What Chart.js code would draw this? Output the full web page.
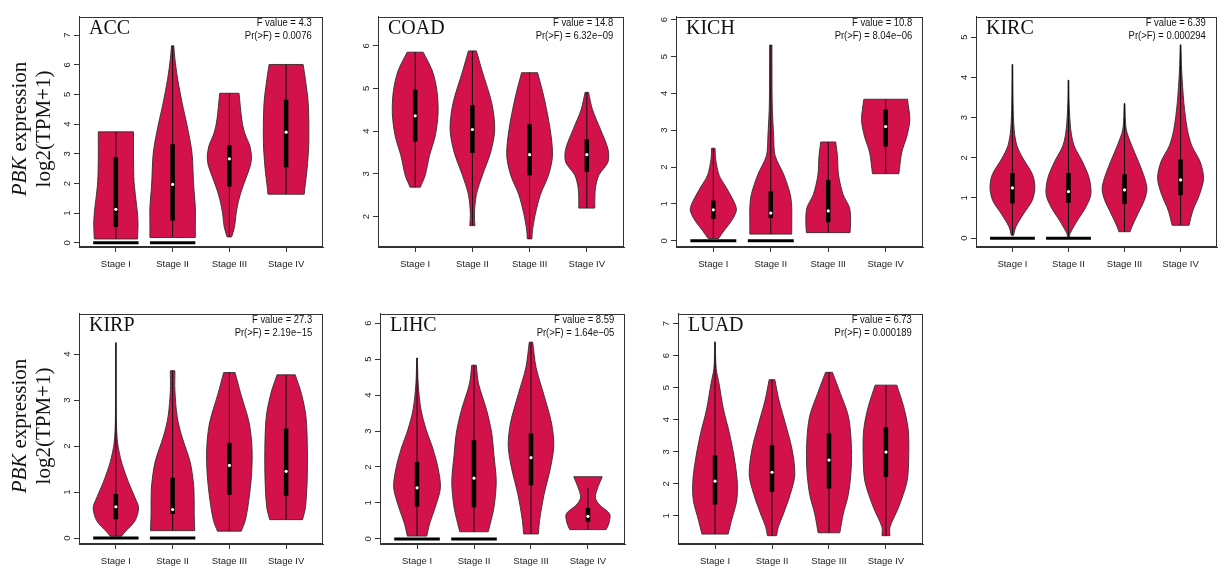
<!DOCTYPE html>
<html>
<head>
<meta charset="utf-8">
<script src="https://cdn.jsdelivr.net/npm/chart.js@4.4.1/dist/chart.umd.min.js"></script>
<style>
  html, body { margin: 0; padding: 0; background: #fff; }
  body { width: 1224px; height: 569px; position: relative; overflow: hidden; }
  canvas { position: absolute; }
  .name { position: absolute; font: 20px 'Liberation Serif', 'Times New Roman', serif; color: #111; line-height: 20px; white-space: nowrap; }
  .stat { position: absolute; font: 11px 'Liberation Sans', Arial, sans-serif; color: #111; text-align: right; line-height: 13px; white-space: nowrap; transform: scaleX(0.86); transform-origin: right top; }
  .ytitle { position: absolute; width: 170px; height: 50px; font: 21px 'Liberation Serif', 'Times New Roman', serif; color: #111; line-height: 24px; text-align: center; transform: rotate(-90deg); white-space: nowrap; }
</style>
</head>
<body>
<script>
const stages = ['Stage I', 'Stage II', 'Stage III', 'Stage IV'];
const cancers = ['ACC', 'COAD', 'KICH', 'KIRC', 'KIRP', 'LIHC', 'LUAD'];
const fValues = ['4.3', '14.8', '10.8', '6.39', '27.3', '8.59', '6.73'];
const pValues = ['0.0076', '6.32e\u221209', '8.04e\u221206', '0.000294', '2.19e\u221215', '1.64e\u221205', '0.000189'];

// y tick values per panel
const yTicks = [
  [0, 1, 2, 3, 4, 5, 6, 7],
  [2, 3, 4, 5, 6],
  [0, 1, 2, 3, 4, 5, 6],
  [0, 1, 2, 3, 4, 5],
  [0, 1, 2, 3, 4],
  [0, 1, 2, 3, 4, 5, 6],
  [1, 2, 3, 4, 5, 6, 7]
];
const yRanges = [[-0.14, 7.62], [1.29, 6.68], [-0.17, 6.08], [-0.22, 5.51], [-0.13, 4.88], [-0.14, 6.26], [0.12, 7.31]];

// violin profiles: [expression, half width] from bottom to top, one per stage
const accViolin = [
  [[0.13, 0.38], [0.6, 0.39], [1.0, 0.38], [1.5, 0.35], [2.06, 0.32], [2.8, 0.31], [3.74, 0.31]],
  [[0.18, 0.40], [0.6, 0.40], [1.2, 0.40], [1.95, 0.37], [3.05, 0.34], [4.0, 0.25], [4.69, 0.17], [5.5, 0.09], [6.2, 0.04], [6.64, 0.02]],
  [[0.2, 0.04], [0.53, 0.09], [1.0, 0.12], [1.4, 0.16], [1.8, 0.22], [2.17, 0.29], [2.6, 0.37], [2.9, 0.39], [3.27, 0.36], [3.7, 0.27], [4.14, 0.22], [5.04, 0.17]],
  [[1.64, 0.32], [1.84, 0.33], [2.5, 0.37], [3.38, 0.40], [4.69, 0.39], [5.5, 0.34], [6.01, 0.30]]
];
const coadViolin = [
  [[2.69, 0.09], [2.97, 0.175], [3.43, 0.25], [3.89, 0.35], [4.42, 0.40], [4.95, 0.38], [5.41, 0.30], [5.85, 0.14]],
  [[1.79, 0.045], [2.06, 0.035], [2.52, 0.07], [2.97, 0.175], [3.51, 0.32], [4.04, 0.39], [4.65, 0.34], [5.41, 0.17], [5.88, 0.07]],
  [[1.48, 0.04], [1.68, 0.05], [2.06, 0.10], [2.52, 0.19], [2.97, 0.33], [3.43, 0.40], [4.04, 0.36], [4.80, 0.25], [5.37, 0.14]],
  [[2.20, 0.14], [2.37, 0.14], [2.67, 0.15], [2.97, 0.21], [3.28, 0.37], [3.58, 0.37], [4.04, 0.24], [4.50, 0.10], [4.91, 0.03]]
];
const kichViolin = [
  [[0.06, 0.09], [0.28, 0.19], [0.55, 0.32], [0.81, 0.40], [0.99, 0.38], [1.43, 0.23], [1.78, 0.10], [2.22, 0.04], [2.51, 0.03]],
  [[0.18, 0.365], [0.55, 0.365], [0.90, 0.365], [1.25, 0.34], [1.78, 0.23], [2.31, 0.075], [2.84, 0.05], [3.72, 0.025], [5.31, 0.02]],
  [[0.22, 0.38], [0.55, 0.39], [0.90, 0.37], [1.25, 0.26], [1.78, 0.18], [2.31, 0.16], [2.68, 0.13]],
  [[1.82, 0.23], [2.40, 0.28], [2.84, 0.37], [3.28, 0.42], [3.84, 0.38]]
];
const kircViolin = [
  [[0.07, 0.02], [0.28, 0.06], [0.61, 0.20], [0.93, 0.35], [1.25, 0.40], [1.58, 0.36], [1.98, 0.19], [2.30, 0.08], [2.71, 0.03], [3.35, 0.012], [4.32, 0.006]],
  [[0.0, 0.01], [0.12, 0.03], [0.44, 0.16], [0.77, 0.31], [1.09, 0.40], [1.49, 0.37], [1.90, 0.25], [2.30, 0.10], [2.71, 0.04], [3.35, 0.012], [3.93, 0.006]],
  [[0.16, 0.10], [0.28, 0.13], [0.61, 0.24], [0.93, 0.35], [1.21, 0.40], [1.49, 0.36], [1.90, 0.25], [2.30, 0.13], [2.71, 0.03], [3.35, 0.006]],
  [[0.32, 0.15], [0.69, 0.22], [1.09, 0.34], [1.49, 0.41], [1.90, 0.35], [2.30, 0.20], [2.71, 0.12], [3.35, 0.06], [4.16, 0.02], [4.81, 0.006]]
];
const kirpViolin = [
  [[0.04, 0.10], [0.13, 0.16], [0.38, 0.34], [0.66, 0.40], [0.87, 0.34], [1.22, 0.22], [1.65, 0.10], [2.07, 0.03], [2.50, 0.01], [3.35, 0.005], [4.25, 0.004]],
  [[0.16, 0.39], [0.52, 0.38], [0.80, 0.38], [1.15, 0.37], [1.65, 0.31], [2.22, 0.16], [2.64, 0.08], [3.21, 0.04], [3.64, 0.04]],
  [[0.15, 0.21], [0.38, 0.28], [0.80, 0.34], [1.37, 0.39], [1.93, 0.40], [2.50, 0.35], [3.14, 0.20], [3.60, 0.10]],
  [[0.40, 0.29], [0.66, 0.34], [1.22, 0.37], [1.93, 0.375], [2.64, 0.35], [3.14, 0.27], [3.55, 0.16]]
];
const lihcViolin = [
  [[0.08, 0.17], [0.42, 0.22], [0.88, 0.32], [1.42, 0.41], [1.96, 0.37], [2.50, 0.28], [3.04, 0.16], [3.59, 0.07], [4.31, 0.02], [5.03, 0.006]],
  [[0.20, 0.25], [0.88, 0.35], [1.60, 0.39], [2.32, 0.35], [2.95, 0.31], [3.59, 0.22], [4.31, 0.08], [4.83, 0.04]],
  [[0.14, 0.13], [0.51, 0.15], [1.24, 0.23], [1.96, 0.34], [2.59, 0.40], [3.22, 0.36], [4.04, 0.22], [4.76, 0.09], [5.47, 0.03]],
  [[0.26, 0.32], [0.45, 0.37], [0.70, 0.38], [0.95, 0.20], [1.15, 0.13], [1.42, 0.17], [1.73, 0.25]]
];
const luadViolin = [
  [[0.43, 0.23], [0.86, 0.29], [1.47, 0.38], [2.08, 0.39], [2.89, 0.33], [3.60, 0.25], [4.31, 0.15], [5.13, 0.07], [5.6, 0.02], [6.43, 0.004]],
  [[0.38, 0.08], [0.65, 0.11], [1.06, 0.20], [1.67, 0.32], [2.28, 0.40], [3.09, 0.35], [3.91, 0.23], [4.62, 0.12], [5.25, 0.05]],
  [[0.47, 0.19], [1.06, 0.25], [1.67, 0.34], [2.48, 0.39], [3.30, 0.39], [4.11, 0.34], [4.82, 0.20], [5.48, 0.06]],
  [[0.38, 0.07], [0.65, 0.07], [1.26, 0.22], [2.08, 0.37], [2.89, 0.40], [3.70, 0.39], [4.41, 0.31], [5.08, 0.19]]
];

// [q1, median, q3] per stage
const accBox = [[0.53, 1.13, 2.88], [0.75, 1.97, 3.32], [1.90, 2.83, 3.30], [2.55, 3.73, 4.82]];
const coadBox = [[3.76, 4.36, 4.97], [3.49, 4.04, 4.61], [2.97, 3.45, 4.16], [3.05, 3.45, 3.81]];
const kichBox = [[0.59, 0.84, 1.09], [0.62, 0.75, 1.34], [0.50, 0.81, 1.65], [2.56, 3.10, 3.56]];
const kircBox = [[0.86, 1.25, 1.62], [0.88, 1.16, 1.62], [0.85, 1.20, 1.59], [1.07, 1.45, 1.96]];
const kirpBox = [[0.41, 0.68, 0.96], [0.52, 0.62, 1.31], [0.94, 1.58, 2.07], [0.92, 1.45, 2.38]];
const lihcBox = [[0.90, 1.42, 2.14], [0.88, 1.69, 2.74], [1.49, 2.26, 2.93], [0.48, 0.63, 0.86]];
const luadBox = [[1.35, 2.08, 2.89], [1.75, 2.36, 3.20], [1.85, 2.74, 3.58], [2.21, 2.99, 3.77]];

// [low, high] of the thin line per stage
const accWhisker = [[0.13, 3.74], [0.18, 6.64], [0.2, 5.04], [1.64, 6.01]];
const coadWhisker = [[2.69, 5.85], [1.79, 5.88], [1.48, 5.37], [2.20, 4.91]];
const kichWhisker = [[0.06, 2.51], [0.18, 5.31], [0.22, 2.68], [1.82, 3.84]];
const kircWhisker = [[0.07, 4.32], [0.0, 3.93], [0.16, 3.35], [0.32, 4.81]];
const kirpWhisker = [[0.04, 4.25], [0.16, 3.64], [0.15, 3.60], [0.40, 3.55]];
const lihcWhisker = [[0.08, 5.03], [0.20, 4.83], [0.14, 5.47], [0.26, 1.42]];
const luadWhisker = [[0.43, 6.43], [0.38, 5.25], [0.47, 5.48], [0.38, 5.08]];

// stages that have a flat bar of zero values
const zeroStages = [[1, 2], [], [1, 2], [1, 2], [1, 2], [1, 2], []];

const violins = [accViolin, coadViolin, kichViolin, kircViolin, kirpViolin, lihcViolin, luadViolin];
const boxStats = [accBox, coadBox, kichBox, kircBox, kirpBox, lihcBox, luadBox];
const whiskers = [accWhisker, coadWhisker, kichWhisker, kircWhisker, kirpWhisker, lihcWhisker, luadWhisker];

// plot box of each panel on the page: left, top, right, bottom
const frames = [
  [79, 11, 323, 247], [378, 11, 624, 247], [676, 11, 923, 247], [976, 11, 1217, 247],
  [79, 308, 323, 544], [380, 308, 625, 544], [678, 308, 923, 544]
];

const SANS = "'Liberation Sans', Arial, sans-serif";
const FILL = '#d3114b';
const YW = 30, XH = 32, PT = 4, PR = 6;

const frameBox = {
  id: 'frameBox',
  afterDraw(chart) {
    const a = chart.chartArea;
    const ctx = chart.ctx;
    ctx.save();
    ctx.strokeStyle = '#333';
    ctx.lineWidth = 1;
    ctx.strokeRect(Math.round(a.left) + 0.5, Math.round(a.top) + 0.5, Math.round(a.right - a.left) - 1, Math.round(a.bottom - a.top) - 1);
    ctx.restore();
  }
};

function outline(pos, prof) {
  const left = prof.map(([v, w]) => ({ x: pos - w, y: v }));
  const right = prof.map(([v, w]) => ({ x: pos + w, y: v })).reverse();
  return [left[0], ...left, left[left.length - 1], right[0], ...right, right[right.length - 1], left[0]];
}

function makeDatasets(k) {
  const sets = [];
  violins[k].forEach((prof, i) => {
    const pos = i + 1;
    const [q1, med, q3] = boxStats[k][i];
    const [lo, hi] = whiskers[k][i];
    sets.push({
      data: outline(pos, prof), showLine: true, fill: 'shape', backgroundColor: FILL,
      borderColor: '#3a2a2e', borderWidth: 0.9, tension: 0.3, pointRadius: 0, order: 5
    });
    sets.push({
      data: [{ x: pos, y: lo }, { x: pos, y: hi }], showLine: true, borderColor: '#111',
      borderWidth: 1, pointRadius: 0, order: 3
    });
    sets.push({
      data: [{ x: pos, y: q1 }, { x: pos, y: q3 }], showLine: true, borderColor: '#000',
      borderWidth: 4.5, borderCapStyle: 'butt', pointRadius: 0, order: 2
    });
    sets.push({
      data: [{ x: pos, y: med }], showLine: false, pointRadius: 1.6, pointBorderWidth: 0,
      pointBackgroundColor: '#fff', order: 1
    });
  });
  zeroStages[k].forEach(pos => {
    sets.push({
      data: [{ x: pos - 0.4, y: 0 }, { x: pos + 0.4, y: 0 }], showLine: true, borderColor: '#000',
      borderWidth: 3, borderCapStyle: 'butt', pointRadius: 0, order: 4
    });
  });
  return sets;
}

function addText(cls, left, top, html) {
  const d = document.createElement('div');
  d.className = cls;
  d.style.left = left + 'px';
  d.style.top = top + 'px';
  d.innerHTML = html;
  document.body.appendChild(d);
  return d;
}

cancers.forEach((name, k) => {
  const [l, t, r, b] = frames[k];
  const canvas = document.createElement('canvas');
  const w = (r - l) + YW + PR;
  const h = (b - t) + PT + XH;
  canvas.width = w;
  canvas.height = h;
  canvas.style.left = (l - YW) + 'px';
  canvas.style.top = (t - PT) + 'px';
  canvas.style.width = w + 'px';
  canvas.style.height = h + 'px';
  document.body.appendChild(canvas);

  new Chart(canvas, {
    type: 'scatter',
    data: { datasets: makeDatasets(k) },
    options: {
      responsive: false,
      animation: false,
      devicePixelRatio: 1,
      layout: { padding: { top: PT, right: PR, left: 0, bottom: 0 } },
      plugins: { legend: { display: false }, tooltip: { enabled: false } },
      scales: {
        x: {
          type: 'linear', min: 0.35, max: 4.65,
          afterFit: s => { s.height = XH; },
          afterBuildTicks: s => { s.ticks = stages.map((_, i) => ({ value: i + 1 })); },
          ticks: {
            callback: v => stages[Math.round(v) - 1], autoSkip: false, maxRotation: 0, minRotation: 0,
            padding: 7, color: '#222', font: { family: SANS, size: 9.5 }
          },
          grid: { drawOnChartArea: false, tickLength: 5, color: '#333' },
          border: { color: '#333' }
        },
        y: {
          type: 'linear', min: yRanges[k][0], max: yRanges[k][1],
          afterFit: s => { s.width = YW; },
          afterBuildTicks: s => { s.ticks = yTicks[k].map(v => ({ value: v })); },
          ticks: {
            autoSkip: false, minRotation: 90, maxRotation: 90, crossAlign: 'center',
            padding: 4, color: '#222', font: { family: SANS, size: 9.5 }
          },
          grid: { drawOnChartArea: false, tickLength: 5, color: '#333' },
          border: { color: '#333' }
        }
      }
    },
    plugins: [frameBox]
  });

  addText('name', l + 10, t + 6, name);
  const s = addText('stat', 0, t + 5, 'F value = ' + fValues[k] + '<br>Pr(&gt;F) = ' + pValues[k]);
  s.style.left = '';
  s.style.right = (1224 - r + 11) + 'px';

  if (l < 100) {
    const cy = (t + b) / 2;
    addText('ytitle', 32 - 85, cy - 25, '<i>PBK</i> expression<br>log2(TPM+1)');
  }
});
</script>
</body>
</html>
